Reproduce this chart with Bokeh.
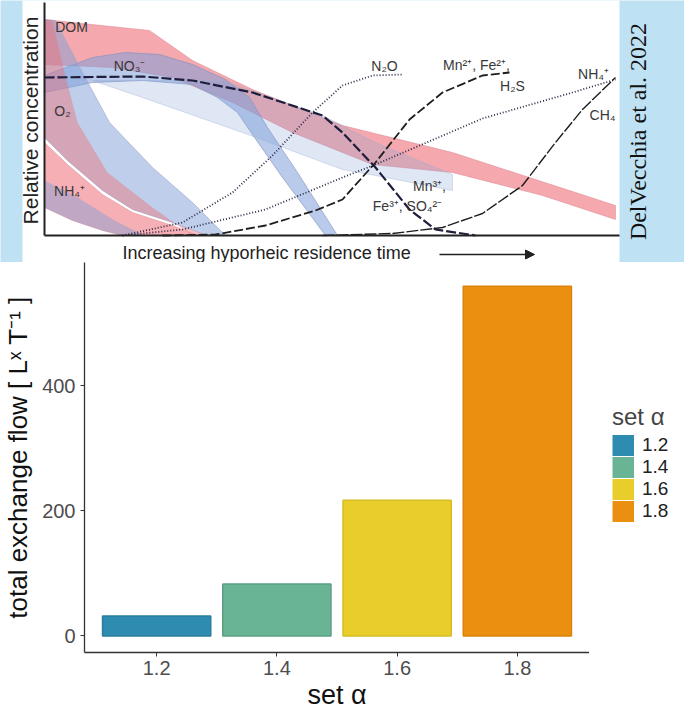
import numpy as np
from bokeh.plotting import figure
from bokeh.models import (Range1d, FactorRange, FixedTicker, ColumnDataSource,
                          Arrow, NormalHead, Legend, LegendItem)
from bokeh.layouts import column, row
from bokeh.embed import file_html
from bokeh.resources import INLINE
from bokeh.core.properties import value

# ---------------- bar chart data ----------------
alpha_levels = ["1.2", "1.4", "1.6", "1.8"]
exchange_flow = [32, 83, 217, 559]
bar_colors = ["#2E8CB0", "#69B495", "#E9CD2B", "#EB8F10"]
bar_edges = ["#2A7C9C", "#5E9F84", "#D8BD25", "#DB830E"]
y_ticks = [0, 200, 400]

# ---------------- inset (conceptual diagram) ----------------
# units: time 0..573 (axis length), relative concentration 0..233
dom_t = [0, 105, 148, 208, 298, 408, 571, 571, 498, 408, 328, 248, 188, 128, 68, 0]
dom_c = [216, 205, 175, 146, 110, 83, 30, 16, 40, 63, 71, 103, 133, 158, 168, 171]

no3_t = [0, 48, 81, 115, 148, 181, 205, 223, 253, 293, 281, 238, 210, 193, 173, 148, 98, 48, 0]
no3_c = [160, 178, 183, 181, 171, 156, 138, 108, 63, 0, 0, 58, 98, 123, 138, 151, 155, 153, 143]

wedge_t = [48, 178, 278, 331, 408, 408, 331, 298, 198, 98]
wedge_c = [155, 155, 120, 93, 61, 45, 60, 66, 103, 138]

o2_t = [0, 11, 38, 65, 108, 148, 181, 163, 128, 88, 58, 23, 0]
o2_c = [216, 215, 163, 113, 68, 33, 0, 0, 13, 26, 45, 75, 98]
o2_red_t = [0, 8, 20, 33, 63, 108, 148, 163, 128, 88, 58, 23, 0]
o2_red_c = [216, 215, 163, 113, 63, 28, 0, 0, 13, 26, 45, 75, 98]

nh4_t = [0, 23, 58, 88, 128, 153, 78, 58, 28, 0]
nh4_c = [93, 71, 41, 23, 10, 0, 0, 5, 15, 28]
nh4_blue_t = [0, 30, 70, 100, 78, 58, 28, 0]
nh4_blue_c = [55, 40, 15, 0, 0, 5, 15, 28]

ox_t = [0, 98, 148, 208, 278, 298, 331, 365, 391, 431]
ox_c = [158, 159, 155, 143, 120, 103, 68, 26, 6, 0]
n2o_t = [78, 138, 188, 228, 268, 298, 328, 358]
n2o_c = [0, 13, 43, 80, 123, 150, 160, 161]
nh4r_t = [78, 138, 221, 298, 331, 438, 528, 571]
nh4r_c = [0, 6, 26, 58, 71, 117, 143, 156]
mn_t = [118, 171, 221, 271, 298, 331, 365, 398, 438, 465]
mn_c = [0, 1, 10, 25, 36, 73, 116, 143, 160, 163]
ch4_t = [278, 348, 398, 438, 478, 511, 538, 571]
ch4_c = [0, 2, 8, 22, 50, 93, 126, 158]

inset_labels = ["DOM", "NO\u2083\u207b", "O\u2082", "NH\u2084\u207a", "N\u2082O",
                "Mn\u00b2\u207a, Fe\u00b2\u207a,", "H\u2082S", "NH\u2084\u207a", "CH\u2084",
                "Mn\u00b3\u207a,", "Fe\u00b3\u207a, SO\u2084\u00b2\u207b"]
label_t = [27, 85, 18, 25, 340, 432, 468, 549, 558, 385, 363]
label_c = [209, 170, 125, 45, 170, 171, 150, 162, 121, 50, 30]

BLUE_BG = "#BFE1F4"
RED = "#EE6E77"
BLUE = "#7F9FD8"

# ---------------- inset figure ----------------
p1 = figure(width=684, height=262, x_range=Range1d(-44, 640), y_range=Range1d(-27, 235),
            x_axis_location=None, y_axis_location=None, toolbar_location=None,
            output_backend="svg", min_border=0)
p1.frame_align = False
p1.grid.visible = False
p1.outline_line_color = None
p1.background_fill_color = BLUE_BG
p1.border_fill_color = BLUE_BG

p1.quad(left=[-22], right=[575], bottom=[-27], top=[245], fill_color="white", line_color=None)

p1.patch(dom_t, dom_c, fill_color=RED, fill_alpha=0.6, line_color="#D98890", line_alpha=0.5)
p1.patch(no3_t, no3_c, fill_color=BLUE, fill_alpha=0.55, line_color="#7F8FBF", line_alpha=0.6)
p1.patch(wedge_t, wedge_c, fill_color=BLUE, fill_alpha=0.25, line_color="#9FB0D8", line_alpha=0.4)
p1.patch(o2_t, o2_c, fill_color=BLUE, fill_alpha=0.5, line_color="#A0A8C8", line_alpha=0.6)
p1.patch(o2_red_t, o2_red_c, fill_color=RED, fill_alpha=0.45, line_color=None)
p1.patch(nh4_t, nh4_c, fill_color=RED, fill_alpha=0.55, line_color="#D99098", line_alpha=0.5)
p1.patch(nh4_blue_t, nh4_blue_c, fill_color=BLUE, fill_alpha=0.45, line_color=None)

p1.line(ox_t, ox_c, line_color="#1E1E3C", line_width=2.2, line_dash="10 3")
p1.line(n2o_t, n2o_c, line_color="#2A2A48", line_width=1.8, line_dash="1 2")
p1.line(nh4r_t, nh4r_c, line_color="#2A2A48", line_width=1.8, line_dash="1 2")
p1.line(mn_t, mn_c, line_color="#1E1E1E", line_width=1.8, line_dash="9 3")
p1.line(ch4_t, ch4_c, line_color="#1E1E1E", line_width=1.4, line_dash="12 2")

# inset axes
p1.segment(x0=[0, 0], y0=[0, 0], x1=[0, 575], y1=[233, 0], line_color="#222222", line_width=2)

p1.text(x=label_t, y=label_c, text=inset_labels, text_font=value("Liberation Sans"),
        text_font_size="14px", text_color="#383838", text_align="center", text_baseline="middle")

p1.text(x=[-14], y=[115], text=["Relative concentration"], angle=np.pi / 2,
        text_font=value("Liberation Sans"), text_font_size="21px", text_color="#222222",
        text_align="center", text_baseline="middle")
p1.text(x=[78], y=[-17], text=["Increasing hyporheic residence time"],
        text_font=value("Liberation Sans"), text_font_size="18px", text_color="#222222",
        text_align="left", text_baseline="middle")
p1.add_layout(Arrow(end=NormalHead(size=9, fill_color="#222222", line_color="#222222"),
                    x_start=395, y_start=-19, x_end=490, y_end=-19,
                    line_color="#222222", line_width=1.5))
p1.text(x=[593], y=[104], text=["DelVecchia et al. 2022"], angle=np.pi / 2,
        text_font=value("Liberation Serif"), text_font_size="24px", text_color="#111111",
        text_align="center", text_baseline="middle")

# ---------------- bar chart ----------------
src = ColumnDataSource(dict(alpha=alpha_levels, flow=exchange_flow,
                            color=bar_colors, edge=bar_edges))

p2 = figure(width=589, height=450,
            x_range=FactorRange(factors=alpha_levels, range_padding=0.1,
                                range_padding_units="absolute"),
            y_range=Range1d(-26.4, 597), toolbar_location=None, output_backend="svg",
            min_border_left=84, min_border_right=0, min_border_top=0, min_border_bottom=55)
p2.frame_align = False
p2.grid.visible = False
p2.outline_line_color = None
p2.background_fill_color = "white"
p2.border_fill_color = "white"

p2.vbar(x="alpha", top="flow", width=0.9, source=src, fill_color="color",
        line_color="edge", line_width=1.5)

for ax in (p2.xaxis[0], p2.yaxis[0]):
    ax.axis_line_color = "#333333"
    ax.axis_line_width = 1.3
    ax.major_tick_line_color = "#333333"
    ax.major_tick_out = 4
    ax.major_tick_in = 0
    ax.minor_tick_line_color = None
    ax.major_label_text_font = "Liberation Sans"
    ax.major_label_text_font_size = "20px"
    ax.major_label_text_color = "#4D4D4D"
    ax.axis_label_text_font = "Liberation Sans"
    ax.axis_label_text_font_size = "27px"
    ax.axis_label_text_font_style = "normal"
    ax.axis_label_text_color = "#111111"

p2.yaxis[0].ticker = FixedTicker(ticks=y_ticks)
p2.yaxis[0].major_label_standoff = 5
p2.yaxis[0].axis_label = "total exchange flow [ L\u02e3 T\u207b\u00b9 ]"
p2.yaxis[0].axis_label_standoff = 6
p2.yaxis[0].axis_label_text_font_size = "26px"
p2.xaxis[0].major_label_standoff = 4
p2.xaxis[0].axis_label = "set \u03b1"
p2.xaxis[0].axis_label_standoff = 2

# ---------------- legend panel ----------------
p3 = figure(width=95, height=450, x_range=Range1d(0, 95), y_range=Range1d(0, 450),
            x_axis_location=None, y_axis_location=None, toolbar_location=None,
            output_backend="svg", min_border=0)
p3.frame_align = False
p3.grid.visible = False
p3.outline_line_color = None
p3.background_fill_color = "white"
p3.border_fill_color = "white"

items = []
for lvl, col in zip(alpha_levels, bar_colors):
    # key stroke placed outside the visible range; only its legend swatch shows
    r = p3.line(x=[-20, -10], y=[-20, -20], line_color=col, line_width=21, line_cap="butt")
    items.append(LegendItem(label=lvl, renderers=[r]))

lg = Legend(items=items, location=(23, 190))
lg.title = "set \u03b1"
lg.title_text_font = "Liberation Sans"
lg.title_text_font_size = "24px"
lg.title_text_font_style = "normal"
lg.title_standoff = 3
lg.label_text_font = "Liberation Sans"
lg.label_text_font_size = "19px"
lg.label_text_color = "#222222"
lg.glyph_width = 22
lg.glyph_height = 22
lg.label_height = 22
lg.label_standoff = 8
lg.spacing = 0
lg.padding = 0
lg.margin = 0
lg.border_line_color = None
lg.background_fill_alpha = 0
p3.add_layout(lg)

layout = column(p1, row(p2, p3, spacing=0), spacing=0)
open("out.html", "w").write(file_html(layout, INLINE))
